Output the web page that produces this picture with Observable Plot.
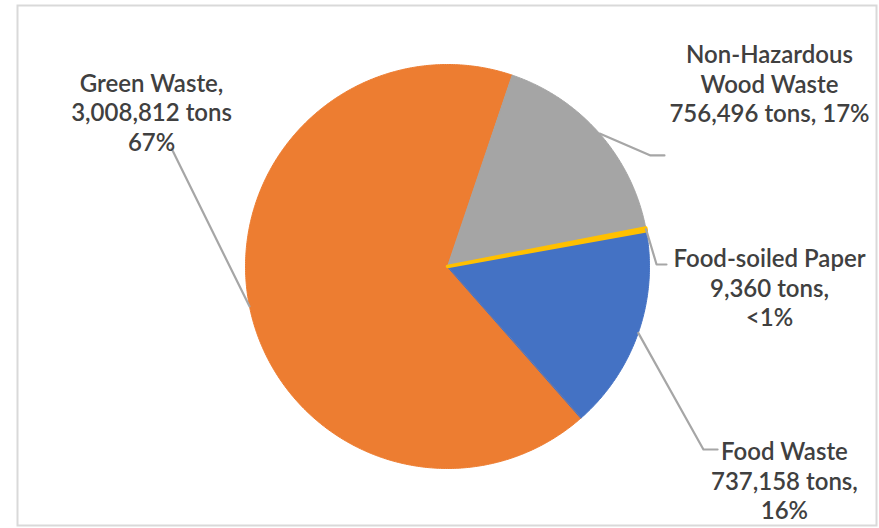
<!DOCTYPE html>
<html>
<head>
<meta charset="utf-8">
<script src="https://cdn.jsdelivr.net/npm/d3@7"></script>
<script src="https://cdn.jsdelivr.net/npm/@observablehq/plot@0.6"></script>
<style>
  html, body { margin: 0; padding: 0; background: #ffffff; }
  #chart { width: 879px; height: 528px; }
</style>
</head>
<body>
<div id="chart"></div>
<script>
// ---- data ----
const categories = ["Green Waste", "Non-Hazardous Wood Waste", "Food-soiled Paper", "Food Waste"];
const tons = [3008812, 756496, 9360, 737158];
const labelTexts = [
  "Green Waste,\n3,008,812 tons\n67%",
  "Non-Hazardous\nWood Waste\n756,496 tons, 17%",
  "Food-soiled Paper\n9,360 tons,\n<1%",
  "Food Waste\n737,158 tons,\n16%"
];
const colors = ["#ED7D31", "#A5A5A5", "#FFC000", "#4472C4"];

// ---- layout (unit-circle coordinates, pie radius = 1) ----
const startDeg = 138.6;
const labelPos = [[-1.465, 0.767], [1.594, 0.906], [1.594, -0.104], [1.668, -1.059]];
const leaderBends = [
  [[-1.366, 0.584]],
  [[1.005, 0.550], [1.074, 0.550]],
  [[1.035, 0.010], [1.084, 0.010]],
  [[1.267, -0.906], [1.337, -0.906]]
];

const a0 = startDeg * Math.PI / 180;
const arcs = d3.pie().sort(null).value(d => d).startAngle(a0).endAngle(a0 + 2 * Math.PI)(tons);

const slicePts = [];
arcs.forEach((a, i) => {
  const cat = categories[i];
  slicePts.push({cat, x: 0, y: 0});
  const n = Math.max(2, Math.ceil((a.endAngle - a.startAngle) / (Math.PI / 360)));
  for (let k = 0; k <= n; k++) {
    const t = a.startAngle + (a.endAngle - a.startAngle) * k / n;
    slicePts.push({cat, x: Math.sin(t), y: Math.cos(t)});
  }
});

const leaderPts = [];
arcs.forEach((a, i) => {
  const m = (a.startAngle + a.endAngle) / 2;
  leaderPts.push({cat: categories[i], x: Math.sin(m), y: Math.cos(m)});
  leaderBends[i].forEach(p => leaderPts.push({cat: categories[i], x: p[0], y: p[1]}));
});

const labels = categories.map((c, i) => ({cat: c, text: labelTexts[i], x: labelPos[i][0], y: labelPos[i][1]}));

const plot = Plot.plot({
  width: 879,
  height: 528,
  marginLeft: 17,
  marginTop: 5,
  marginRight: 3,
  marginBottom: 3,
  x: {domain: [-1, 1], range: [245, 649], axis: null},
  y: {domain: [-1, 1], range: [468, 64], axis: null},
  color: {domain: categories, range: colors},
  style: {fontFamily: "Lato, sans-serif", background: "#ffffff"},
  marks: [
    Plot.frame({stroke: "#d9d9d9", strokeWidth: 2}),
    Plot.line(slicePts, {x: "x", y: "y", z: "cat", fill: "cat", stroke: "cat", strokeWidth: 1, curve: "linear-closed"}),
    Plot.line(slicePts, {filter: d => d.cat === "Food-soiled Paper", x: "x", y: "y", z: "cat", fill: "cat", stroke: "cat", strokeWidth: 3.5, strokeLinejoin: "round", curve: "linear-closed"}),
    Plot.line(leaderPts, {x: "x", y: "y", z: "cat", stroke: "#a6a6a6", strokeWidth: 2.2}),
    Plot.text(labels, {x: "x", y: "y", text: "text", fontSize: 24, fontWeight: 600, lineHeight: 1.23, fill: "#404040", textAnchor: "middle", lineAnchor: "middle"})
  ]
});
document.getElementById("chart").appendChild(plot);
</script>
</body>
</html>
